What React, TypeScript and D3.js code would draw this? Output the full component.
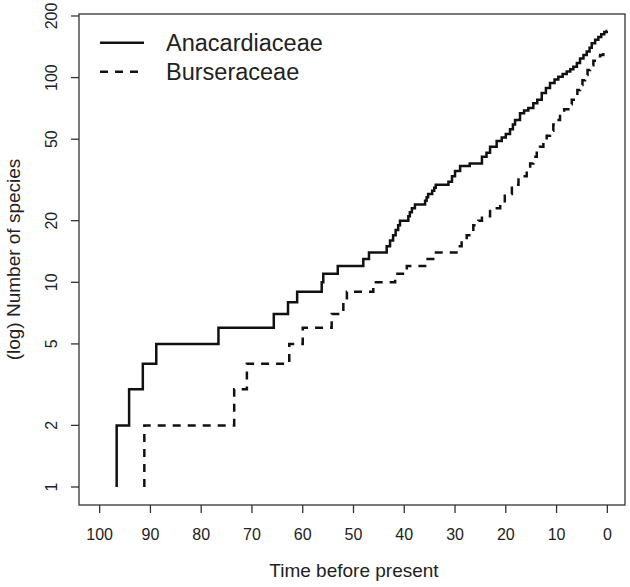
import React, { useRef, useEffect } from 'react';
import * as d3 from 'd3';

// lineage-through-time steps: [time before present, number of species from then on]
const anacardiaceae: [number, number][] = [
  [96.65, 1], [96.65, 2], [94.2, 3], [91.5, 4], [88.85, 5], [76.6, 6], [65.7, 7], [62.9, 8],
  [61.1, 9], [56.26, 10], [55.95, 11], [53.1, 12], [48.07, 13], [46.95, 14], [43.46, 15],
  [42.8, 16], [42.2, 17], [41.7, 18], [41.2, 19], [40.84, 20], [39.2, 21], [38.9, 22],
  [38.5, 23], [37.9, 24], [35.9, 25], [35.6, 26], [35.3, 27], [34.5, 28], [34.1, 29],
  [33.8, 30], [31.3, 31], [30.6, 33], [30.0, 35], [29.0, 37], [27.1, 38], [24.7, 41],
  [23.8, 43], [23.1, 46], [21.8, 49], [20.8, 51], [20.0, 53], [19.17, 56], [18.6, 59],
  [18.18, 62], [17.2, 67], [16.4, 69], [15.56, 71], [14.58, 75], [13.8, 78], [12.92, 84],
  [12.1, 89], [11.29, 94], [10.4, 98], [9.65, 101], [8.8, 104], [8.0, 107], [7.3, 110],
  [6.7, 113], [6.0, 118], [5.38, 124], [4.7, 129], [4.06, 134], [3.5, 140], [3.07, 147],
  [2.4, 153], [1.77, 158], [1.2, 163], [0.6, 167], [0.12, 169], [0, 169],
];

const burseraceae: [number, number][] = [
  [91.2, 1], [91.2, 2], [73.5, 3], [71.0, 4], [62.65, 5], [60.0, 6], [54.3, 7], [52.0, 8],
  [51.3, 9], [46.1, 10], [41.8, 11], [39.5, 12], [35.9, 13], [34.3, 14], [29.4, 15],
  [28.7, 16], [27.7, 17], [26.4, 19], [25.4, 20], [24.7, 21], [23.1, 23], [21.1, 24],
  [20.2, 27], [18.8, 30], [17.5, 33], [15.88, 35], [15.2, 38], [14.58, 41], [13.9, 44],
  [13.26, 46], [12.6, 49], [11.94, 52], [11.3, 55], [10.64, 59], [10.0, 62], [9.32, 66],
  [8.5, 70], [7.68, 74], [7.0, 78], [6.36, 82], [5.9, 87], [5.38, 92], [4.9, 97],
  [4.39, 103], [3.9, 109], [3.41, 115], [2.75, 121], [2.09, 127], [1.4, 129], [0.79, 132],
  [0.3, 135], [0, 136],
];

const xTicks = [100, 90, 80, 70, 60, 50, 40, 30, 20, 10, 0];
const yTicks = [1, 2, 5, 10, 20, 50, 100, 200];
const seriesNames = ['Anacardiaceae', 'Burseraceae'];

const FONT = '"Liberation Sans", Arial, Helvetica, sans-serif';

export default function App() {
  const svgRef = useRef<SVGSVGElement>(null);

  useEffect(() => {
    const svg = d3.select(svgRef.current);
    svg.selectAll('*').remove();
    if (!svgRef.current) return;

    const width = 630;
    const height = 587;
    const box = { left: 79, right: 625, top: 14, bottom: 505 };

    svg.attr('viewBox', `0 0 ${width} ${height}`);

    const x = d3.scaleLinear().domain([104.07, -3.48]).range([box.left, box.right]);
    const y = d3.scaleLog().domain([0.8167, 204.5]).range([box.bottom, box.top]);

    svg.append('rect').attr('width', width).attr('height', height).attr('fill', 'white');

    // Frame
    svg.append('rect')
      .attr('x', box.left).attr('y', box.top)
      .attr('width', box.right - box.left).attr('height', box.bottom - box.top)
      .attr('fill', 'none').attr('stroke', '#333').attr('stroke-width', 1.3);

    // X axis
    const gx = svg.append('g');
    xTicks.forEach((t) => {
      gx.append('line')
        .attr('x1', x(t)).attr('x2', x(t)).attr('y1', box.bottom).attr('y2', box.bottom + 8)
        .attr('stroke', '#333').attr('stroke-width', 1.3);
      gx.append('text')
        .attr('x', x(t)).attr('y', 540)
        .attr('text-anchor', 'middle')
        .attr('font-family', FONT).attr('font-size', 16).attr('fill', '#222')
        .text(t);
    });

    // Y axis
    const gy = svg.append('g');
    yTicks.forEach((t) => {
      gy.append('line')
        .attr('x1', box.left - 8).attr('x2', box.left).attr('y1', y(t)).attr('y2', y(t))
        .attr('stroke', '#333').attr('stroke-width', 1.3);
      gy.append('text')
        .attr('transform', `translate(57,${y(t)}) rotate(-90)`)
        .attr('text-anchor', 'middle')
        .attr('font-family', FONT).attr('font-size', 16).attr('fill', '#222')
        .text(t);
    });

    // Axis titles
    svg.append('text')
      .attr('x', 354).attr('y', 577)
      .attr('text-anchor', 'middle')
      .attr('font-family', FONT).attr('font-size', 19).attr('fill', '#222')
      .text('Time before present');

    svg.append('text')
      .attr('transform', `translate(20,${(box.top + box.bottom) / 2}) rotate(-90)`)
      .attr('text-anchor', 'middle')
      .attr('font-family', FONT).attr('font-size', 19).attr('fill', '#222')
      .text('(log) Number of species');

    // Step lines
    const line = d3.line<[number, number]>()
      .x((d) => x(d[0]))
      .y((d) => y(d[1]))
      .curve(d3.curveStepAfter);

    svg.append('path').datum(anacardiaceae).attr('d', line)
      .attr('fill', 'none').attr('stroke', '#111').attr('stroke-width', 2.5);

    svg.append('path').datum(burseraceae).attr('d', line)
      .attr('fill', 'none').attr('stroke', '#111').attr('stroke-width', 2.5)
      .attr('stroke-dasharray', '8,7');

    // Legend
    const legend = svg.append('g');
    seriesNames.forEach((name, i) => {
      const ly = 42.7 + i * 29;
      legend.append('line')
        .attr('x1', 100).attr('x2', 144).attr('y1', ly).attr('y2', ly)
        .attr('stroke', '#111').attr('stroke-width', 2.5)
        .attr('stroke-dasharray', i === 1 ? '8,7' : null);
      legend.append('text')
        .attr('x', 166).attr('y', ly + 8)
        .attr('font-family', FONT).attr('font-size', 23.5).attr('fill', '#222')
        .text(name);
    });
  }, []);

  return (
    <div style={{ position: 'absolute', left: 0, top: 0 }}>
      <svg ref={svgRef} width={630} height={587} style={{ display: 'block' }} />
    </div>
  );
}
